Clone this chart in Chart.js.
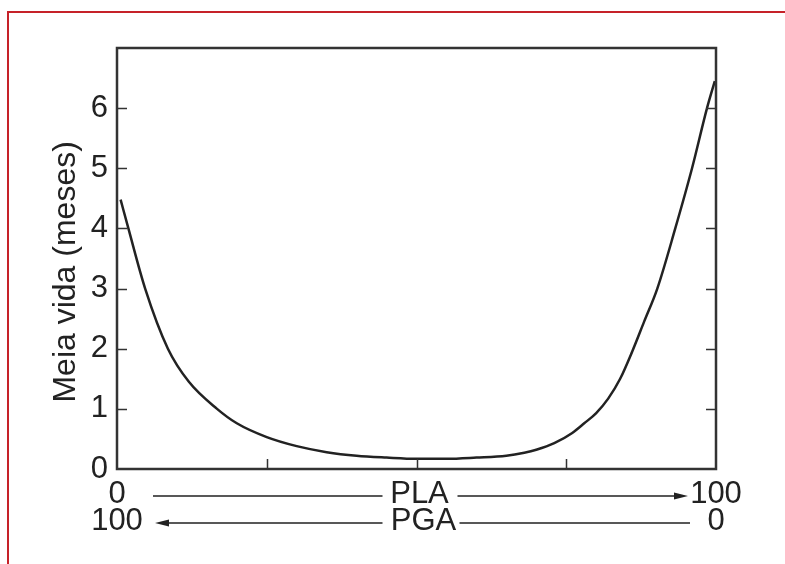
<!DOCTYPE html>
<html>
<head>
<meta charset="utf-8">
<title>Meia vida PLA/PGA</title>
<script src="https://cdn.jsdelivr.net/npm/chart.js@4.4.1/dist/chart.umd.min.js"></script>
<style>
  html, body { margin: 0; padding: 0; background: #fff; }
  #wrap { position: relative; width: 785px; height: 564px; overflow: hidden; }
  #frame {
    position: absolute; left: 7px; top: 11px; right: -10px; bottom: -10px;
    border-top: 2px solid #c62229; border-left: 2px solid #c62229;
  }
  #myChart { position: absolute; left: 0; top: 0; }
</style>
</head>
<body>
<div id="wrap">
  <div id="frame"></div>
  <canvas id="myChart" width="785" height="564"></canvas>
</div>
<script>
// ============================================
// Data
// ============================================

// % PLA in the copolymer (PGA = 100 - PLA)
const plaPercent = [0.6, 1.9, 4.7, 8.5, 12, 16.7, 20, 25, 30, 35, 40, 45, 50, 55, 60, 65, 68, 70, 73, 76, 78, 80, 82, 84, 86, 88, 90.2, 93.2, 96, 98.5, 99.8];
// half-life in months
const halfLife = [4.48, 4.0, 3.0, 2.0, 1.45, 1.0, 0.76, 0.53, 0.38, 0.28, 0.22, 0.19, 0.17, 0.17, 0.19, 0.22, 0.27, 0.32, 0.43, 0.6, 0.76, 0.93, 1.17, 1.5, 1.95, 2.45, 3.0, 4.0, 5.0, 6.0, 6.45];

const yTicks = [0, 1, 2, 3, 4, 5, 6];
const xInnerTicks = [25, 50, 75];
const xEndLabels = { 0: ['0', '100'], 100: ['100', '0'] };

const FONT = "'Liberation Sans', Arial, Helvetica, sans-serif";
const INK = '#222';

// ============================================
// Frame, inward ticks and PLA / PGA arrows
// ============================================

const framePlugin = {
	id: 'frame',
	afterDraw(chart) {
		const ctx = chart.ctx;
		const area = chart.chartArea;
		const xs = chart.scales.x;
		const ys = chart.scales.y;
		ctx.save();
		ctx.strokeStyle = '#333';
		ctx.lineWidth = 2.5;
		ctx.strokeRect(area.left, area.top, area.right - area.left, area.bottom - area.top);

		ctx.lineWidth = 1.5;
		ctx.beginPath();
		yTicks.slice(1).forEach(v => {
			const y = Math.round(ys.getPixelForValue(v)) + 0.5;
			ctx.moveTo(area.left, y);
			ctx.lineTo(area.left + 10, y);
			ctx.moveTo(area.right, y);
			ctx.lineTo(area.right - 10, y);
		});
		xInnerTicks.forEach(v => {
			const x = Math.round(xs.getPixelForValue(v)) + 0.5;
			ctx.moveTo(x, area.bottom);
			ctx.lineTo(x, area.bottom - 10);
		});
		ctx.stroke();

		// composition axis below the chart
		const x0 = xs.getPixelForValue(0);
		const x100 = xs.getPixelForValue(100);
		const mid = (x0 + x100) / 2;
		const row1 = 496;
		const row2 = 523;

		ctx.fillStyle = INK;
		ctx.strokeStyle = INK;
		ctx.lineWidth = 1.5;
		ctx.font = '31px ' + FONT;
		ctx.textAlign = 'center';
		ctx.textBaseline = 'alphabetic';
		ctx.fillText('PLA', mid + 3, row1 + 7);
		ctx.fillText('PGA', mid + 7, row2 + 7);

		ctx.beginPath();
		ctx.moveTo(x0 + 36, row1); ctx.lineTo(mid - 34, row1);
		ctx.moveTo(mid + 41, row1); ctx.lineTo(x100 - 34, row1);
		ctx.moveTo(x0 + 44, row2); ctx.lineTo(mid - 34, row2);
		ctx.moveTo(mid + 43, row2); ctx.lineTo(x100 - 26, row2);
		ctx.stroke();

		// arrow heads
		ctx.beginPath();
		ctx.moveTo(x100 - 28, row1);
		ctx.lineTo(x100 - 42, row1 - 3.5);
		ctx.lineTo(x100 - 42, row1 + 3.5);
		ctx.closePath();
		ctx.moveTo(x0 + 38, row2);
		ctx.lineTo(x0 + 52, row2 - 3.5);
		ctx.lineTo(x0 + 52, row2 + 3.5);
		ctx.closePath();
		ctx.fill();
		ctx.restore();
	}
};

// ============================================
// Chart
// ============================================

new Chart(document.getElementById('myChart'), {
	type: 'line',
	data: {
		datasets: [{
			data: plaPercent.map((x, i) => ({ x: x, y: halfLife[i] })),
			borderColor: INK,
			borderWidth: 2.5,
			pointRadius: 0,
			fill: false,
			cubicInterpolationMode: 'monotone'
		}]
	},
	options: {
		responsive: false,
		animation: false,
		devicePixelRatio: 1,
		layout: { padding: { top: 48, right: 69, bottom: 0, left: 0 } },
		plugins: { legend: { display: false }, tooltip: { enabled: false } },
		scales: {
			x: {
				type: 'linear',
				min: 0,
				max: 100,
				afterBuildTicks: scale => {
					scale.ticks = [{ value: 0 }, { value: 100 }];
				},
				afterFit: scale => { scale.height = 95; },
				grid: { display: false, drawTicks: false },
				border: { display: false },
				ticks: {
					color: INK,
					padding: 12,
					maxRotation: 0,
					autoSkip: false,
					font: { family: FONT, size: 31, lineHeight: 0.87 },
					callback: v => xEndLabels[v] || ''
				}
			},
			y: {
				min: 0,
				max: 7,
				afterFit: scale => { scale.width = 117; },
				grid: { display: false, drawTicks: false },
				border: { display: false },
				ticks: {
					stepSize: 1,
					color: INK,
					padding: 9,
					font: { family: FONT, size: 31 },
					callback: v => (v === 7 ? '' : v)
				},
				title: {
					display: true,
					// trailing spaces nudge the rotated title down, as in the original
					text: 'Meia vida (meses)\u00a0\u00a0\u00a0',
					color: INK,
					padding: { top: 47, bottom: 0 },
					font: { family: FONT, size: 32 }
				}
			}
		}
	},
	plugins: [framePlugin]
});
</script>
</body>
</html>
